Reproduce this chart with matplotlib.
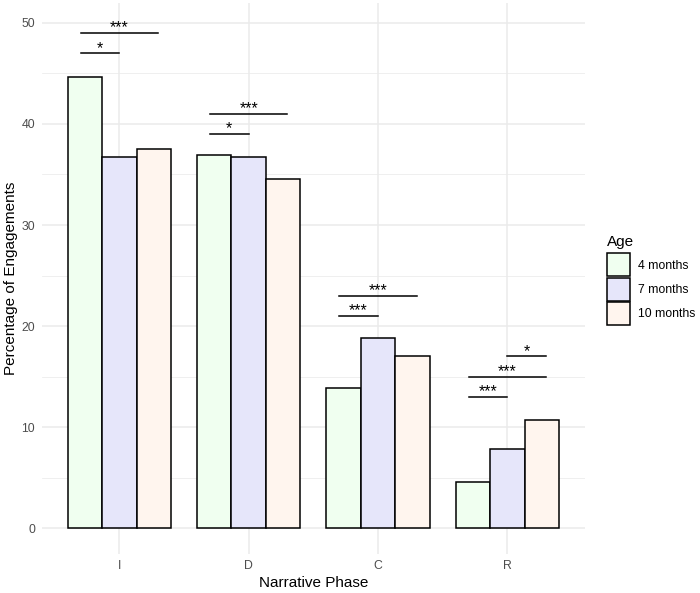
import numpy as np
import matplotlib.pyplot as plt
from matplotlib.patches import Patch

plt.rcParams['font.family'] = ['Liberation Sans', 'DejaVu Sans']

# data
phases = ['I', 'D', 'C', 'R']
ages = ['4 months', '7 months', '10 months']
pct_4m = [44.6, 36.9, 13.9, 4.6]
pct_7m = [36.7, 36.7, 18.8, 7.8]
pct_10m = [37.5, 34.6, 17.0, 10.7]
fills = ['#F0FFF0', '#E6E6FA', '#FFF5EE']

# significance brackets: (x start, x end, y, label)
sig_x0 = [0.7, 0.7, 1.7, 1.7, 2.7, 2.7, 3.7, 3.7, 4.0]
sig_x1 = [1.0, 1.3, 2.0, 2.3, 3.0, 3.3, 4.0, 4.3, 4.3]
sig_y = [47, 49, 39, 41, 21, 23, 13, 15, 17]
sig_lab = ['*', '***', '*', '***', '***', '***', '***', '***', '*']

fig = plt.figure(figsize=(7.0, 5.93), dpi=100)
ax = fig.add_axes([0.0596, 0.0664, 0.776, 0.9292])

x = np.arange(1, len(phases) + 1)
w = 0.8 / 3
for i, (vals, col) in enumerate(zip([pct_4m, pct_7m, pct_10m], fills)):
    ax.bar(x + (i - 1) * w, vals, width=w, color=col, edgecolor='black',
           linewidth=1.1, zorder=3)

for x0, x1, y, lab in zip(sig_x0, sig_x1, sig_y, sig_lab):
    ax.plot([x0, x1], [y, y], color='black', lw=1.1, zorder=4)
    ax.text((x0 + x1) / 2, y + 0.05, lab, ha='center', va='baseline',
            fontsize=11.5, zorder=4)

ax.set_xlim(0.4, 4.6)
ax.set_ylim(-2.5, 52)
ax.set_xticks(x)
ax.set_xticklabels(phases)
ax.set_yticks([0, 10, 20, 30, 40, 50])
ax.set_yticks([5, 15, 25, 35, 45], minor=True)
ax.tick_params(axis='both', which='both', length=0, labelsize=8.8,
               labelcolor='#4D4D4D', pad=4.8)
ax.grid(True, which='major', color='#EBEBEB', lw=1.1, zorder=0)
ax.grid(True, which='minor', axis='y', color='#EBEBEB', lw=0.55, zorder=0)
ax.set_axisbelow(True)
for s in ax.spines.values():
    s.set_visible(False)

ax.set_xlabel('Narrative Phase', fontsize=11, labelpad=3)
ax.set_ylabel('Percentage of Engagements', fontsize=11, labelpad=2.5)

handles = [Patch(facecolor=c, edgecolor='black', linewidth=1.1) for c in fills]
leg = fig.legend(handles, ages, loc='upper left', bbox_to_anchor=(0.858, 0.614),
                 frameon=False, title='Age', fontsize=8.8, title_fontsize=11,
                 handlelength=1.9, handleheight=2.55, labelspacing=0.1,
                 handletextpad=0.7, borderpad=0)
leg._legend_box.align = 'left'
leg._legend_box.sep = 3

fig.savefig('out.png', dpi=100)
